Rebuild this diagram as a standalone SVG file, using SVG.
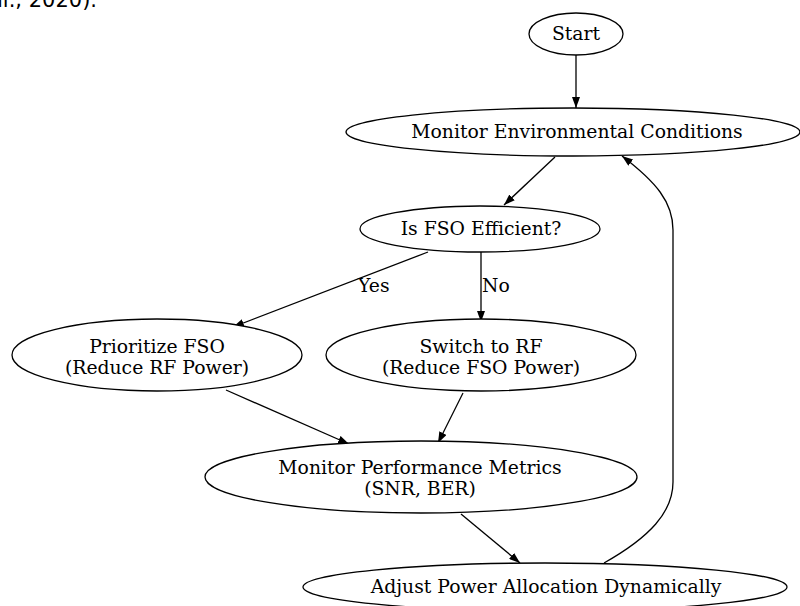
<svg xmlns="http://www.w3.org/2000/svg" width="800" height="606" viewBox="0 0 800 606">
<style>
.n ellipse{fill:#fff;stroke:#000;stroke-width:1.3}
.n text,.lbl{font-family:"DejaVu Serif","Liberation Serif",serif;font-size:18.8px;fill:#000;text-anchor:middle}
.lbl{text-anchor:start}
.e path{fill:none;stroke:#000;stroke-width:1.3;marker-end:url(#arr)}
.cap{font-family:"DejaVu Sans","Liberation Sans",sans-serif;font-size:21px;fill:#000;text-anchor:end}
</style>
<defs>
<marker id="arr" viewBox="0 0 11 8" refX="11" refY="4" markerWidth="11" markerHeight="8" orient="auto" markerUnits="userSpaceOnUse">
<path d="M0,0 L11,4 L0,8 z" fill="#000"/>
</marker>
</defs>
<rect width="800" height="606" fill="#fff"/>
<text class="cap" x="97" y="7">al., 2020).</text>
<g id="edges" class="e">
<path d="M576,55 L576,108"/>
<path d="M555,157 L504,205"/>
<path d="M428,252 L233,327"/>
<path d="M481,252 L481,322"/>
<path d="M226,390 L349,444"/>
<path d="M463,393 L438,443"/>
<path d="M461,514 L520,563"/>
<path d="M604,563 C650,537 673,512 673,482 L673,230 C673,202 656,182 622,156"/>
<text class="lbl" x="358" y="292">Yes</text>
<text class="lbl" x="482" y="292">No</text>
</g>
<g id="start" class="n"><ellipse cx="576" cy="34" rx="47" ry="21"/><text x="576" y="40">Start</text></g>
<g id="monitorEnv" class="n"><ellipse cx="573" cy="132" rx="227" ry="24"/><text x="577" y="138">Monitor Environmental Conditions</text></g>
<g id="isFso" class="n"><ellipse cx="480" cy="229" rx="120" ry="23"/><text x="481" y="235">Is FSO Efficient?</text></g>
<g id="prioritize" class="n"><ellipse cx="157" cy="355" rx="145" ry="36"/><text x="157" y="353">Prioritize FSO</text><text x="157" y="374">(Reduce RF Power)</text></g>
<g id="switch" class="n"><ellipse cx="481" cy="355" rx="155" ry="36"/><text x="481" y="353">Switch to RF</text><text x="481" y="374">(Reduce FSO Power)</text></g>
<g id="monitorPerf" class="n"><ellipse cx="421" cy="477" rx="216" ry="36"/><text x="420" y="474">Monitor Performance Metrics</text><text x="420" y="495">(SNR, BER)</text></g>
<g id="adjust" class="n"><ellipse cx="545" cy="587" rx="242" ry="24"/><text x="546" y="593">Adjust Power Allocation Dynamically</text></g>
</svg>
